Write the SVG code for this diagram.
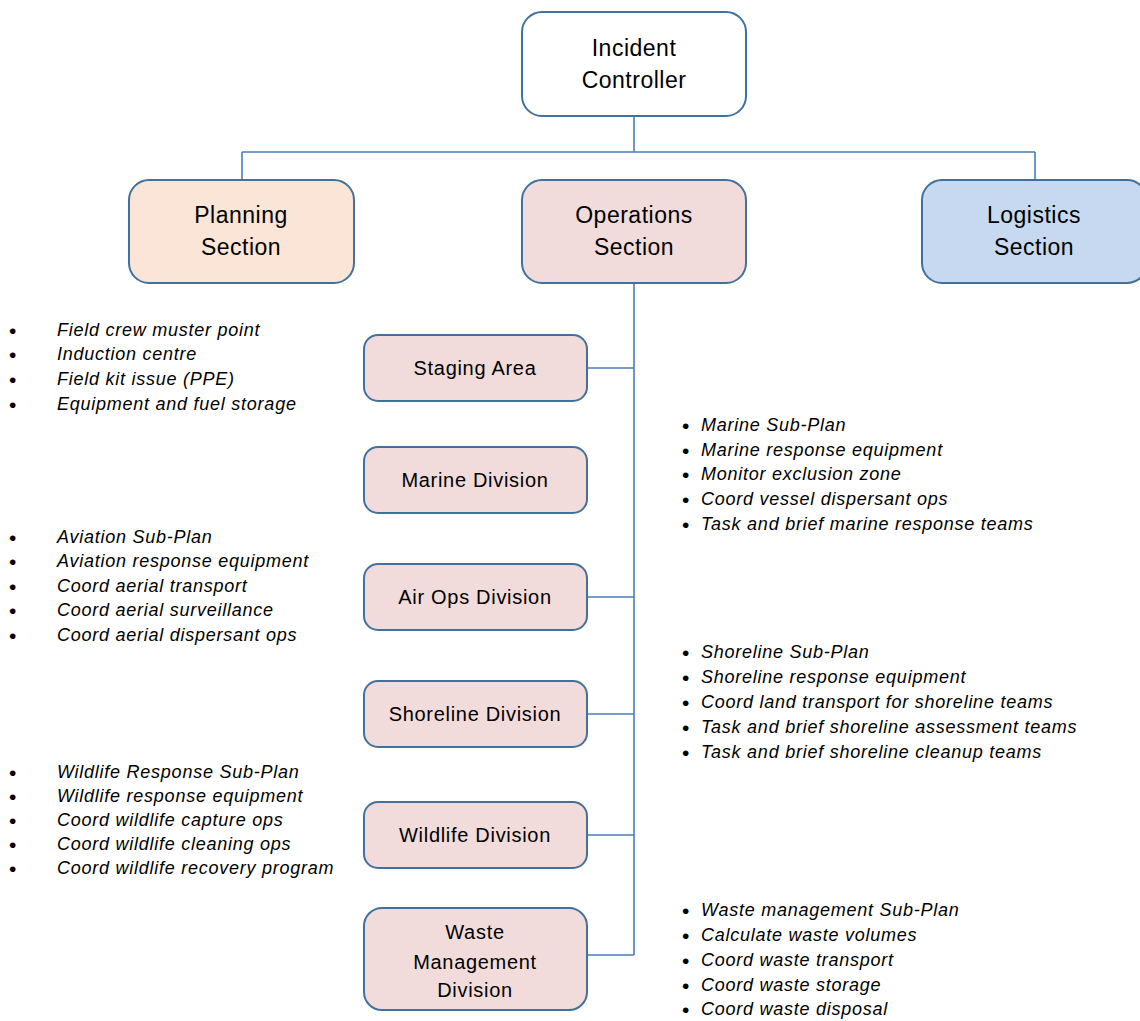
<svg xmlns="http://www.w3.org/2000/svg" width="1140" height="1021" viewBox="0 0 1140 1021">
  <style>
    .box { stroke: #41719C; stroke-width: 2; }
    .white { fill: #FFFFFF; }
    .peach { fill: #FBE5D6; }
    .rose { fill: #F2DCDB; }
    .blue { fill: #C6D9F0; }
    .lbl { font-family: "Liberation Sans", Arial, sans-serif; font-size: 20px; letter-spacing: 0.7px; fill: #000; text-anchor: middle; dominant-baseline: central; }
    .big { font-size: 23px; letter-spacing: 0.5px; }
    .item { font-family: "Liberation Sans", Arial, sans-serif; font-size: 18px; letter-spacing: 0.75px; font-style: italic; fill: #000; dominant-baseline: central; }
    .dot { font-family: "Liberation Sans", Arial, sans-serif; font-size: 21px; fill: #000; dominant-baseline: central; }
    .wire { stroke: #4A7EBB; stroke-width: 1.6; fill: none; }
  </style>

  <!-- connectors -->
  <g id="connectors">
    <path class="wire" d="M634 116 V152 M242 152 H1035 M242 152 V180 M1035 152 V180 M634 283 V955"/>
    <path class="wire" d="M587 368 H634 M587 597 H634 M587 714 H634 M587 835 H634 M587 955 H634"/>
  </g>

  <!-- top level -->
  <g id="incident-controller">
    <rect class="box white" x="522" y="12" width="224" height="104" rx="20"/>
    <text class="lbl big" x="634" y="48">Incident</text>
    <text class="lbl big" x="634" y="80">Controller</text>
  </g>

  <g id="planning-section">
    <rect class="box peach" x="129" y="180" width="225" height="103" rx="20"/>
    <text class="lbl big" x="241" y="215">Planning</text>
    <text class="lbl big" x="241" y="247">Section</text>
  </g>

  <g id="operations-section">
    <rect class="box rose" x="522" y="180" width="224" height="103" rx="20"/>
    <text class="lbl big" x="634" y="215">Operations</text>
    <text class="lbl big" x="634" y="247">Section</text>
  </g>

  <g id="logistics-section">
    <rect class="box blue" x="922" y="180" width="225" height="103" rx="20"/>
    <text class="lbl big" x="1034" y="215">Logistics</text>
    <text class="lbl big" x="1034" y="247">Section</text>
  </g>

  <!-- divisions -->
  <g id="staging-area">
    <rect class="box rose" x="364" y="335" width="223" height="66" rx="14"/>
    <text class="lbl" x="475" y="368">Staging Area</text>
  </g>

  <g id="marine-division">
    <rect class="box rose" x="364" y="447" width="223" height="66" rx="14"/>
    <text class="lbl" x="475" y="480">Marine Division</text>
  </g>

  <g id="air-ops-division">
    <rect class="box rose" x="364" y="564" width="223" height="66" rx="14"/>
    <text class="lbl" x="475" y="597">Air Ops Division</text>
  </g>

  <g id="shoreline-division">
    <rect class="box rose" x="364" y="681" width="223" height="66" rx="14"/>
    <text class="lbl" x="475" y="714">Shoreline Division</text>
  </g>

  <g id="wildlife-division">
    <rect class="box rose" x="364" y="802" width="223" height="66" rx="14"/>
    <text class="lbl" x="475" y="835">Wildlife Division</text>
  </g>

  <g id="waste-management-division">
    <rect class="box rose" x="364" y="908" width="223" height="102" rx="18"/>
    <text class="lbl" x="475" y="932">Waste</text>
    <text class="lbl" x="475" y="962">Management</text>
    <text class="lbl" x="475" y="990">Division</text>
  </g>

  <!-- task lists -->
  <g id="staging-tasks">
    <text class="dot" x="9" y="330">•</text><text class="item" x="57" y="330">Field crew muster point</text>
    <text class="dot" x="9" y="354">•</text><text class="item" x="57" y="354">Induction centre</text>
    <text class="dot" x="9" y="379">•</text><text class="item" x="57" y="379">Field kit issue (PPE)</text>
    <text class="dot" x="9" y="404">•</text><text class="item" x="57" y="404">Equipment and fuel storage</text>
  </g>

  <g id="marine-tasks">
    <text class="dot" x="682" y="425">•</text><text class="item" x="701" y="425">Marine Sub-Plan</text>
    <text class="dot" x="682" y="450">•</text><text class="item" x="701" y="450">Marine response equipment</text>
    <text class="dot" x="682" y="474">•</text><text class="item" x="701" y="474">Monitor exclusion zone</text>
    <text class="dot" x="682" y="499">•</text><text class="item" x="701" y="499">Coord vessel dispersant ops</text>
    <text class="dot" x="682" y="524">•</text><text class="item" x="701" y="524">Task and brief marine response teams</text>
  </g>

  <g id="air-ops-tasks">
    <text class="dot" x="9" y="537">•</text><text class="item" x="57" y="537">Aviation Sub-Plan</text>
    <text class="dot" x="9" y="561">•</text><text class="item" x="57" y="561">Aviation response equipment</text>
    <text class="dot" x="9" y="586">•</text><text class="item" x="57" y="586">Coord aerial transport</text>
    <text class="dot" x="9" y="610">•</text><text class="item" x="57" y="610">Coord aerial surveillance</text>
    <text class="dot" x="9" y="635">•</text><text class="item" x="57" y="635">Coord aerial dispersant ops</text>
  </g>

  <g id="shoreline-tasks">
    <text class="dot" x="682" y="652">•</text><text class="item" x="701" y="652">Shoreline Sub-Plan</text>
    <text class="dot" x="682" y="677">•</text><text class="item" x="701" y="677">Shoreline response equipment</text>
    <text class="dot" x="682" y="702">•</text><text class="item" x="701" y="702">Coord land transport for shoreline teams</text>
    <text class="dot" x="682" y="727">•</text><text class="item" x="701" y="727">Task and brief shoreline assessment teams</text>
    <text class="dot" x="682" y="752">•</text><text class="item" x="701" y="752">Task and brief shoreline cleanup teams</text>
  </g>

  <g id="wildlife-tasks">
    <text class="dot" x="9" y="772">•</text><text class="item" x="57" y="772">Wildlife Response Sub-Plan</text>
    <text class="dot" x="9" y="796">•</text><text class="item" x="57" y="796">Wildlife response equipment</text>
    <text class="dot" x="9" y="820">•</text><text class="item" x="57" y="820">Coord wildlife capture ops</text>
    <text class="dot" x="9" y="844">•</text><text class="item" x="57" y="844">Coord wildlife cleaning ops</text>
    <text class="dot" x="9" y="868">•</text><text class="item" x="57" y="868">Coord wildlife recovery program</text>
  </g>

  <g id="waste-tasks">
    <text class="dot" x="682" y="910">•</text><text class="item" x="701" y="910">Waste management Sub-Plan</text>
    <text class="dot" x="682" y="935">•</text><text class="item" x="701" y="935">Calculate waste volumes</text>
    <text class="dot" x="682" y="960">•</text><text class="item" x="701" y="960">Coord waste transport</text>
    <text class="dot" x="682" y="985">•</text><text class="item" x="701" y="985">Coord waste storage</text>
    <text class="dot" x="682" y="1009">•</text><text class="item" x="701" y="1009">Coord waste disposal</text>
  </g>
</svg>
